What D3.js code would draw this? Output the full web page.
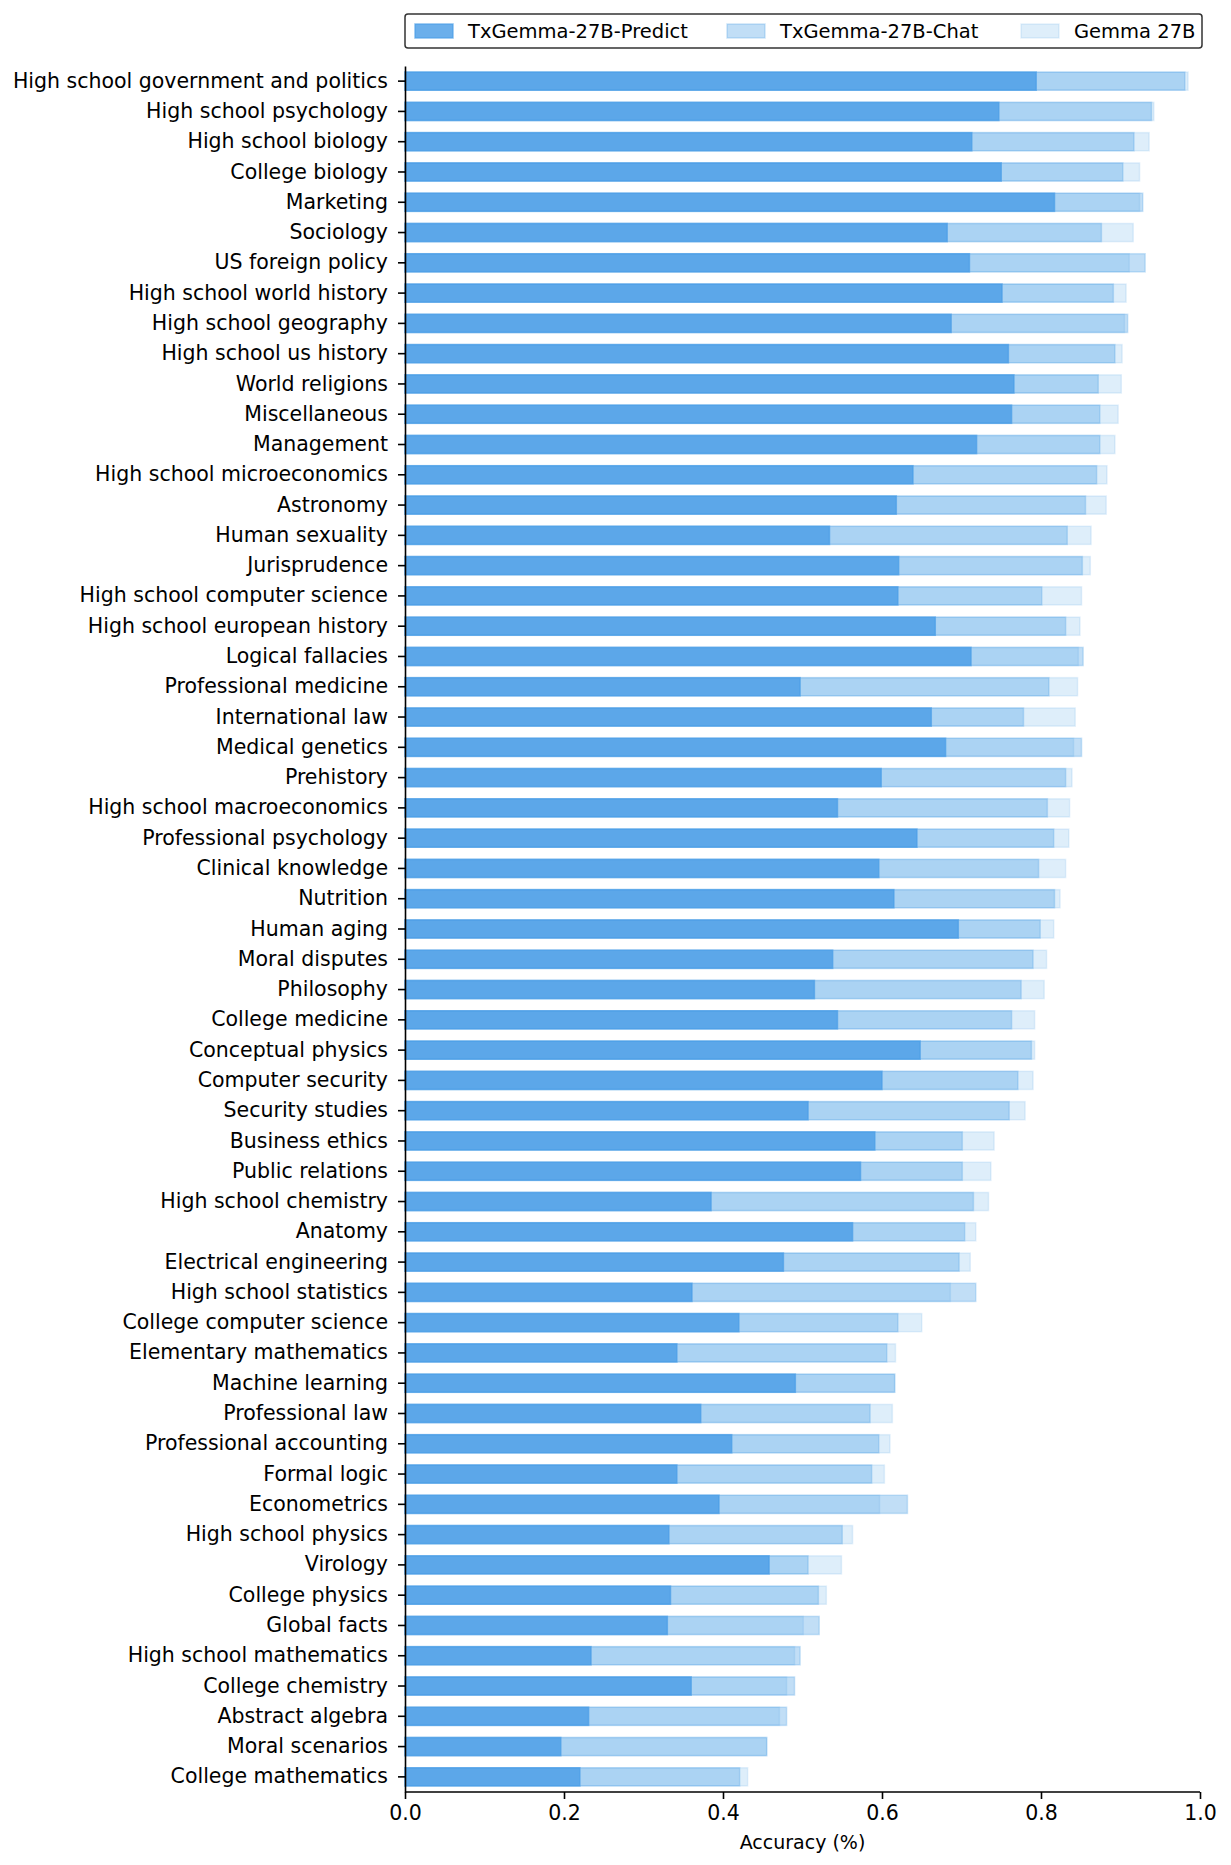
<!DOCTYPE html>
<html>
<head>
<meta charset="utf-8">
<script src="https://cdn.jsdelivr.net/npm/d3@7"></script>
<style>
  body { margin: 0; background: #fff; }
  svg text { font-family: "DejaVu Sans", sans-serif; fill: #000; }
</style>
</head>
<body>
<div id="chart"></div>
<script>
// MMLU subjects, top to bottom
var categories = [
  "High school government and politics", "High school psychology", "High school biology",
  "College biology", "Marketing", "Sociology", "US foreign policy", "High school world history",
  "High school geography", "High school us history", "World religions", "Miscellaneous",
  "Management", "High school microeconomics", "Astronomy", "Human sexuality", "Jurisprudence",
  "High school computer science", "High school european history", "Logical fallacies",
  "Professional medicine", "International law", "Medical genetics", "Prehistory",
  "High school macroeconomics", "Professional psychology", "Clinical knowledge", "Nutrition",
  "Human aging", "Moral disputes", "Philosophy", "College medicine", "Conceptual physics",
  "Computer security", "Security studies", "Business ethics", "Public relations",
  "High school chemistry", "Anatomy", "Electrical engineering", "High school statistics",
  "College computer science", "Elementary mathematics", "Machine learning", "Professional law",
  "Professional accounting", "Formal logic", "Econometrics", "High school physics", "Virology",
  "College physics", "Global facts", "High school mathematics", "College chemistry",
  "Abstract algebra", "Moral scenarios", "College mathematics"
];

var predict = [
  0.794, 0.747, 0.713, 0.750, 0.817, 0.682, 0.710, 0.751, 0.687, 0.759,
  0.766, 0.763, 0.719, 0.639, 0.618, 0.534, 0.621, 0.620, 0.667, 0.712,
  0.497, 0.662, 0.680, 0.599, 0.544, 0.644, 0.596, 0.615, 0.696, 0.538,
  0.515, 0.544, 0.648, 0.600, 0.507, 0.591, 0.573, 0.385, 0.563, 0.476,
  0.361, 0.420, 0.342, 0.491, 0.372, 0.411, 0.342, 0.395, 0.332, 0.458,
  0.334, 0.330, 0.234, 0.360, 0.231, 0.196, 0.220
];

var chat = [
  0.981, 0.939, 0.917, 0.903, 0.928, 0.876, 0.931, 0.891, 0.909, 0.893,
  0.872, 0.874, 0.874, 0.870, 0.856, 0.833, 0.852, 0.801, 0.831, 0.853,
  0.810, 0.778, 0.851, 0.831, 0.808, 0.816, 0.797, 0.817, 0.799, 0.790,
  0.775, 0.763, 0.788, 0.771, 0.760, 0.701, 0.701, 0.715, 0.704, 0.697,
  0.718, 0.620, 0.606, 0.616, 0.585, 0.596, 0.587, 0.632, 0.550, 0.507,
  0.520, 0.521, 0.497, 0.490, 0.480, 0.455, 0.421
];

var gemma = [
  0.985, 0.942, 0.936, 0.924, 0.924, 0.916, 0.911, 0.907, 0.905, 0.902,
  0.901, 0.897, 0.893, 0.883, 0.882, 0.863, 0.862, 0.851, 0.849, 0.847,
  0.846, 0.843, 0.841, 0.839, 0.836, 0.835, 0.831, 0.824, 0.816, 0.807,
  0.804, 0.792, 0.792, 0.790, 0.780, 0.741, 0.737, 0.734, 0.718, 0.711,
  0.686, 0.650, 0.617, 0.616, 0.613, 0.610, 0.603, 0.597, 0.563, 0.549,
  0.530, 0.501, 0.490, 0.480, 0.471, 0.455, 0.431
];

var seriesNames = ["TxGemma-27B-Predict", "TxGemma-27B-Chat", "Gemma 27B"];
var xTicks = [0, 0.2, 0.4, 0.6, 0.8, 1.0];

///////////////////////////////////////////////////////////////////////////
//////////////////////////// Set up the svg ///////////////////////////////
///////////////////////////////////////////////////////////////////////////

var width = 1231,
    height = 1865;
var margin = {top: 66, right: 31, bottom: 73, left: 405};

var svg = d3.select("#chart").append("svg")
    .attr("width", width)
    .attr("height", height);

var g = svg.append("g")
    .attr("transform", "translate(" + margin.left + "," + margin.top + ")");

var innerW = width - margin.left - margin.right,
    innerH = height - margin.top - margin.bottom;

var x = d3.scaleLinear().domain([0, 1]).range([0, innerW]);
var y = d3.scaleBand().domain(categories).range([0, innerH])
    .paddingInner(0.4).paddingOuter(0.2);

//same blue for all three, only the opacity differs
var base = "#4a9ee6";
var layers = [
  {name: seriesNames[2], values: gemma, alpha: 0.18},
  {name: seriesNames[1], values: chat, alpha: 0.34},
  {name: seriesNames[0], values: predict, alpha: 0.82}
];

///////////////////////////////////////////////////////////////////////////
//////////////////////////////// Bars /////////////////////////////////////
///////////////////////////////////////////////////////////////////////////

layers.forEach(function(layer) {
  g.append("g").selectAll("rect")
    .data(categories)
    .enter().append("rect")
    .attr("x", x(0))
    .attr("y", function(d) { return y(d); })
    .attr("width", function(d, i) { return x(layer.values[i]) - x(0); })
    .attr("height", y.bandwidth())
    .style("fill", base)
    .style("fill-opacity", layer.alpha)
    .style("stroke", base)
    .style("stroke-opacity", layer.alpha * 0.8)
    .style("stroke-width", 1.5);
});

///////////////////////////////////////////////////////////////////////////
//////////////////////////////// Axes /////////////////////////////////////
///////////////////////////////////////////////////////////////////////////

var xAxis = g.append("g")
    .attr("transform", "translate(0," + innerH + ")")
    .call(d3.axisBottom(x).tickValues(xTicks).tickFormat(d3.format(".1f"))
      .tickSize(7).tickPadding(6));

var yAxis = g.append("g")
    .call(d3.axisLeft(y).tickSize(7).tickPadding(10).tickSizeOuter(0));

[xAxis, yAxis].forEach(function(ax) {
  ax.select(".domain").style("stroke", "#000").style("stroke-width", 1.6);
  ax.selectAll(".tick line").style("stroke", "#000").style("stroke-width", 1.6);
  ax.selectAll(".tick text").style("font-size", "20.5px").style("fill", "#000");
});
xAxis.select(".domain").attr("d", "M0,0H" + innerW);

g.append("text")
    .attr("x", innerW / 2)
    .attr("y", innerH + 57)
    .attr("text-anchor", "middle")
    .style("font-size", "19px")
    .text("Accuracy (%)");

///////////////////////////////////////////////////////////////////////////
/////////////////////////////// Legend ////////////////////////////////////
///////////////////////////////////////////////////////////////////////////

var legend = svg.append("g").attr("transform", "translate(405,14)");

legend.append("rect")
    .attr("width", 797).attr("height", 34)
    .attr("rx", 3)
    .style("fill", "#fff")
    .style("stroke", "#333")
    .style("stroke-width", 1.5);

var legendItems = [
  {name: seriesNames[0], alpha: 0.82, x: 10},
  {name: seriesNames[1], alpha: 0.34, x: 322},
  {name: seriesNames[2], alpha: 0.18, x: 616}
];

var li = legend.selectAll(".legendItem")
    .data(legendItems)
    .enter().append("g")
    .attr("class", "legendItem")
    .attr("transform", function(d) { return "translate(" + d.x + ",0)"; });

li.append("rect")
    .attr("y", 10).attr("width", 38).attr("height", 14)
    .style("fill", base)
    .style("fill-opacity", function(d) { return d.alpha; })
    .style("stroke", base)
    .style("stroke-opacity", function(d) { return d.alpha * 0.8; })
    .style("stroke-width", 1.5);

li.append("text")
    .attr("x", 53).attr("y", 17).attr("dy", "0.35em")
    .style("font-size", "19.5px")
    .text(function(d) { return d.name; });
</script>
</body>
</html>
